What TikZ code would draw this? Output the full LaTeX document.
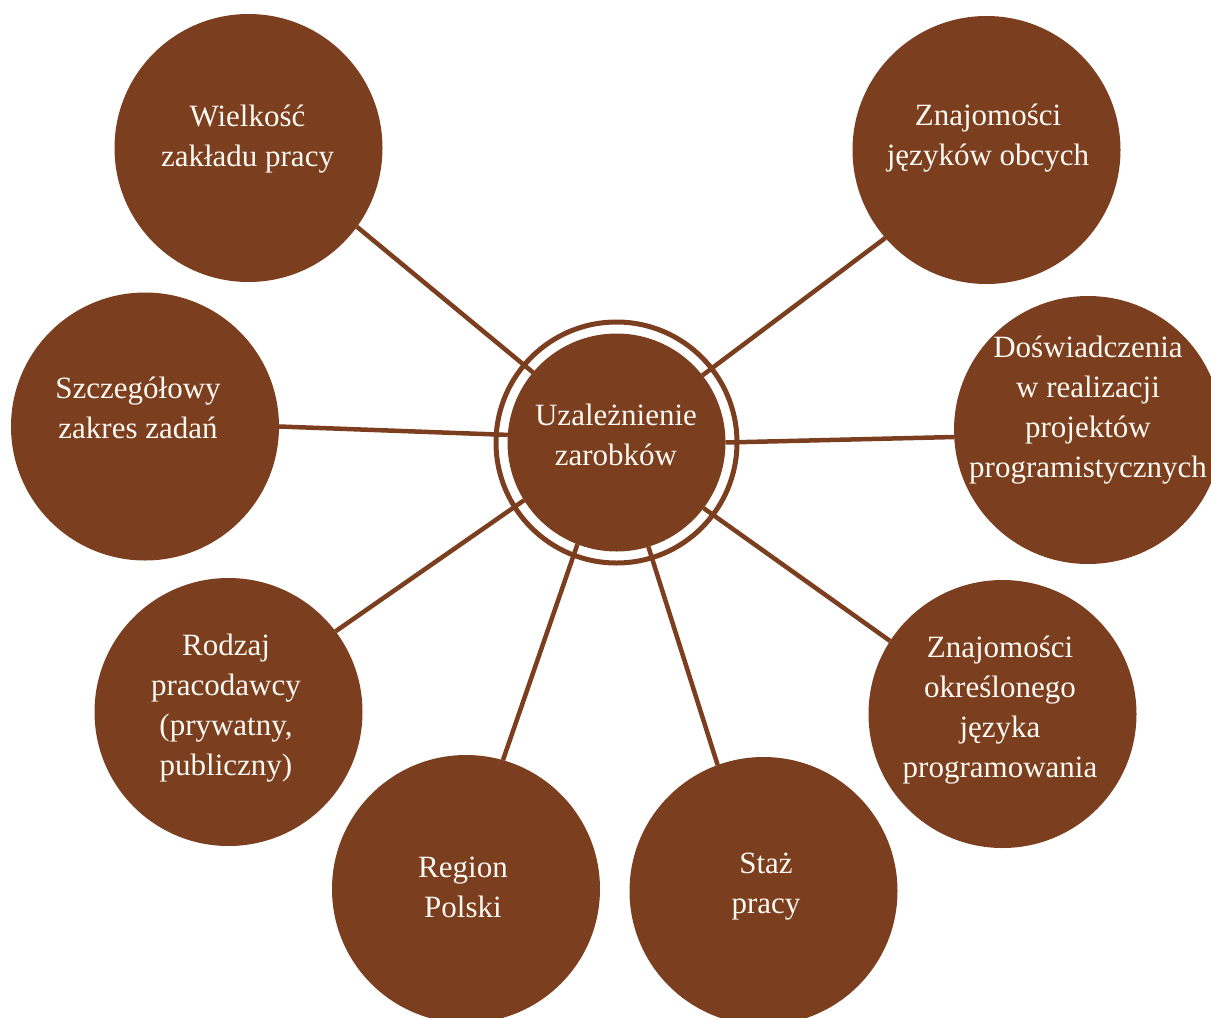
\documentclass[tikz,border=0pt]{standalone}
\usepackage{fontspec}
\setmainfont{Liberation Serif}
\usetikzlibrary{backgrounds}
\definecolor{brn}{RGB}{123,62,30}
\definecolor{txt}{RGB}{252,248,242}
\newcommand{\mlines}[1]{\begin{tabular}[t]{@{}c@{}}#1\end{tabular}}
\begin{document}
\begin{tikzpicture}[x=1pt,y=-1pt,
  bub/.style={circle,fill=brn,draw=none,minimum size=268pt,inner sep=0pt,outer sep=0pt},
  hub/.style={circle,fill=brn,draw=none,minimum size=218pt,inner sep=0pt,outer sep=0pt},
  ring/.style={circle,draw=brn,line width=5pt,minimum size=241pt,inner sep=0pt},
  lbl/.style={anchor=base,inner sep=0pt,text=txt,font=\fontsize{31}{40}\selectfont},
  link/.style={draw=brn,line width=4.5pt}]
\useasboundingbox (0,0) rectangle (1211,1018);
\clip (0,0) rectangle (1211,1018);
% hub
\node[ring] (hubring) at (616.5,442.5) {};
\node[hub] (hub) at (616.5,442.5) {};
\node[lbl] (hubt) at (616,425) {\mlines{Uzależnienie\\zarobków}};
% outer bubbles
\node[bub] (wz) at (248.5,148) {};
\node[bub] (zj) at (986.5,150) {};
\node[bub] (sz) at (145,426.5) {};
\node[bub] (dw) at (1088,430) {};
\node[bub] (rp) at (228.5,712) {};
\node[bub] (rg) at (466,889) {};
\node[bub] (sp) at (763.5,891) {};
\node[bub] (zo) at (1002.5,714) {};
% labels
\node[lbl] (wzt) at (247.5,126) {\mlines{Wielkość\\zakładu pracy}};
\node[lbl] (zjt) at (988,125) {\mlines{Znajomości\\języków obcych}};
\node[lbl] (szt) at (138,398) {\mlines{Szczegółowy\\zakres zadań}};
\node[lbl] (dwt) at (1088,357) {\mlines{Doświadczenia\\w realizacji\\projektów\\programistycznych}};
\node[lbl] (rpt) at (226,655) {\mlines{Rodzaj\\pracodawcy\\(prywatny,\\publiczny)}};
\node[lbl] (rgt) at (463,877) {\mlines{Region\\Polski}};
\node[lbl] (spt) at (766,873) {\mlines{Staż\\pracy}};
\node[lbl] (zot) at (1000,657) {\mlines{Znajomości\\określonego\\języka\\programowania}};
% connectors
\begin{scope}[on background layer]
\draw[link] (hub.140.8) -- (wz.-36.1);
\draw[link] (hub.38.3) -- (zj.-139.1);
\draw[link] (hub.176.6) -- (sz.0);
\draw[link] (hub.0) -- (dw.183.4);
\draw[link] (hub.212.9) -- (rp.37.6);
\draw[link] (hub.249.4) -- (rg.74.2);
\draw[link] (hub.-73.4) -- (sp.110.6);
\draw[link] (hub.-37.1) -- (zo.147.4);
\end{scope}
\end{tikzpicture}
\end{document}
